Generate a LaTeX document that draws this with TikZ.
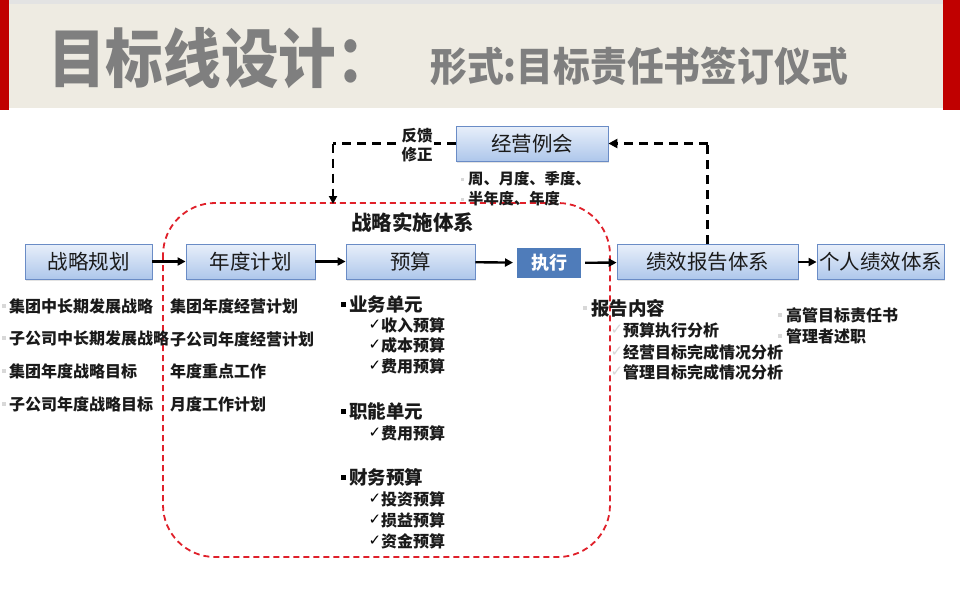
\documentclass[tikz,border=0pt]{standalone}
\usepackage{fontspec}
\usepackage{graphicx}
\setmainfont{Noto Sans CJK SC}
\newfontfamily\symfont{DejaVu Sans}
\usetikzlibrary{arrows.meta,shadows}
\definecolor{headerbg}{HTML}{EEEBE2}
\definecolor{redbar}{HTML}{C00000}
\definecolor{titlegray}{HTML}{7F7F7F}
\definecolor{boxtop}{HTML}{E8EFFA}
\definecolor{boxbot}{HTML}{AEC7EB}
\definecolor{boxborder}{HTML}{6A8CC6}
\definecolor{execblue}{HTML}{4F7CBA}
\definecolor{dashred}{HTML}{E0202A}
\definecolor{textdark}{HTML}{1A1A1A}
\definecolor{faint}{HTML}{D8D8D8}
\begin{document}
\begin{tikzpicture}[x=1pt,y=-1pt,
  bluebox/.style={draw=boxborder, line width=0.8pt, top color=boxtop, bottom color=boxbot,
    minimum height=35pt, inner sep=0pt, text=textdark, font=\fontsize{20.5}{20.5}\selectfont,
    drop shadow={shadow xshift=1.2pt, shadow yshift=-1.5pt, opacity=0.22}},
  execbox/.style={fill=execblue, draw=white, line width=4pt, minimum width=68pt, minimum height=34pt,
    inner sep=0pt, text=white, font=\bfseries\fontsize{18}{18}\selectfont,
    drop shadow={shadow xshift=1.8pt, shadow yshift=-2.2pt, opacity=0.3}},
  flow/.style={line width=2.4pt, -{Triangle[length=8pt,width=8pt]}},
  fbline/.style={line width=2.4pt, dash pattern=on 9pt off 6pt},
  itemtxt/.style={anchor=west, inner sep=0pt, text=textdark, font=\bfseries\fontsize{16}{16}\selectfont},
  headtxt/.style={anchor=west, inner sep=0pt, text=textdark, font=\bfseries\fontsize{18.5}{18.5}\selectfont},
  faintsq/.style={fill=faint, minimum size=4pt, inner sep=0pt},
  blacksq/.style={fill=black, minimum size=5pt, inner sep=0pt},
  chk/.style={inner sep=0pt, font=\symfont\fontsize{15}{15}\selectfont},
]
\useasboundingbox (0,0) rectangle (960,600);
\fill[white] (0,0) rectangle (960,600);
% header
\fill[gray!22] (0,0) rectangle (960,4);
\fill[headerbg] (9,4) rectangle (943,108);
\fill[redbar] (0,0) rectangle (9,110);
\fill[redbar] (943,0) rectangle (960,110);
\node[anchor=west, inner sep=0pt, text=titlegray, font=\bfseries\fontsize{64}{64}\selectfont] (title) at (48,58) {\scalebox{0.9}[1]{目标线设计：}};
\node[anchor=west, inner sep=0pt, text=titlegray, font=\bfseries\fontsize{40}{40}\selectfont] (subtitle) at (430,66) {\scalebox{0.92}[1]{形式:目标责任书签订仪式}};

% red dashed region
\draw[dashred, line width=1.8pt, dash pattern=on 6pt off 4pt, rounded corners=52pt] (163,203) rectangle (610,557);

% boxes
\node[bluebox, minimum width=127pt] (plan) at (88.5,261.5) {战略规划};
\node[bluebox, minimum width=129pt] (year) at (250.5,261.5) {年度计划};
\node[bluebox, minimum width=129pt] (budget) at (410.5,261.5) {预算};
\node[execbox] (exec) at (549,263) {执行};
\node[bluebox, minimum width=152pt] (meet) at (532,143.5) {经营例会};
\node[bluebox, minimum width=181pt] (perf) at (707.5,262) {绩效报告体系};
\node[bluebox, minimum width=127pt] (pers) at (880.5,262) {个人绩效体系};

% flow arrows
\draw[flow] (plan) -- (year);
\draw[flow] (year) -- (budget);
\draw[flow] (budget) -- (exec);
\draw[flow] (exec) -- (perf);
\draw[flow] (perf) -- (pers);

% feedback loop
\coordinate (fbdown) at (333,204);
\draw[fbline] (perf.north) -- (perf.north |- meet.east);
\draw[fbline, -{Triangle[length=9pt,width=9pt]}] (perf.north |- meet.east) -- (meet.east);
\draw[fbline] (meet.west) -- (meet.west -| fbdown);
\draw[fbline, -{Triangle[length=8pt,width=8pt]}] (meet.west -| fbdown) -- (fbdown);
\node[fill=white, inner sep=1.5pt, align=center, text=textdark, font=\bfseries\fontsize{15.5}{19}\selectfont] (fbl) at (417,145) {反馈\\修正};

% meeting frequency
\node[faintsq, minimum size=3pt] (fq0) at (462,179) {};
\node[faintsq, minimum size=3pt] (fq1) at (462,199) {};
\node[itemtxt, font=\bfseries\fontsize{15.3}{15.3}\selectfont] (freq1) at (468,179) {周、月度、季度、};
\node[itemtxt, font=\bfseries\fontsize{15.3}{15.3}\selectfont] (freq2) at (468,199) {半年度、年度};

% region title
\node[inner sep=0pt, text=textdark, font=\bfseries\fontsize{20.5}{20.5}\selectfont] (region) at (412.5,223) {战略实施体系};

% left list
\foreach \y/\t/\n in {306/集团中长期发展战略/l1, 338/子公司中长期发展战略/l2, 371/集团年度战略目标/l3, 404/子公司年度战略目标/l4}{
  \node[faintsq] (\n b) at (4,\y) {};
  \node[itemtxt] (\n) at (9,\y) {\t};
}
% middle list
\foreach \y/\t/\n in {306/集团年度经营计划/m1, 339/子公司年度经营计划/m2, 371/年度重点工作/m3, 404/月度工作计划/m4}{
  \node[itemtxt] (\n) at (170,\y) {\t};
}

% budget list
\foreach \y/\t/\n in {304/业务单元/h1, 411/职能单元/h2, 477/财务预算/h3}{
  \node[blacksq] (\n b) at (343,\y) {};
  \node[headtxt] (\n) at (349,\y) {\t};
}
\foreach \y/\t/\n in {325/收入预算/c1, 345/成本预算/c2, 366/费用预算/c3, 433/费用预算/c4, 499/投资预算/c5, 520/损益预算/c6, 541/资金预算/c7}{
  \node[chk] (\n k) at (375,\y) {✓};
  \node[itemtxt] (\n) at (381,\y) {\t};
}

% report contents
\node[faintsq] (rhb) at (585,308) {};
\node[headtxt] (rh) at (591,308) {报告内容};
\foreach \y/\t/\n in {330/预算执行分析/r1, 352/经营目标完成情况分析/r2, 372/管理目标完成情况分析/r3}{
  \node[chk, text=faint] (\n k) at (617,\y) {✓};
  \node[itemtxt] (\n) at (623,\y) {\t};
}

% individual performance
\foreach \y/\t/\n in {315/高管目标责任书/p1, 336/管理者述职/p2}{
  \node[faintsq] (\n b) at (780,\y) {};
  \node[itemtxt] (\n) at (786,\y) {\t};
}
\end{tikzpicture}
\end{document}
